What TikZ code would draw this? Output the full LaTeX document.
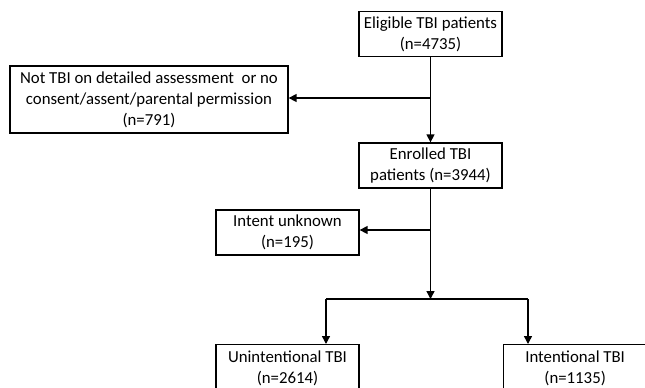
\documentclass[tikz,border=0pt]{standalone}
\usepackage{fontspec}
\setmainfont{Carlito}
\usetikzlibrary{arrows.meta}

\tikzset{
  box/.style={draw, line width=1.3pt, align=center, inner sep=0pt,
    minimum width=143, minimum height=45,
    font=\fontsize{16.8}{21}\selectfont},
  arr/.style={line width=1.4pt, -{Triangle[length=8pt,width=8pt]}},
  ln/.style={line width=1.4pt}
}

\begin{document}
\begin{tikzpicture}[x=1pt,y=-1pt]
\clip (0,0) rectangle (645,388);
\fill[white] (0,0) rectangle (645,388);

\node[box] (elig) at (430.5,34) {Eligible TBI patients\\(n=4735)};
\node[box,minimum width=278,minimum height=67] (excl) at (149,99.5)
  {Not TBI on detailed assessment\ \ or no\\consent/assent/parental permission\\(n=791)};
\node[box] (enrol) at (430.5,165.5) {Enrolled TBI\\patients (n=3944)};
\node[box] (unknown) at (287.5,232.5) {Intent unknown\\(n=195)};
\node[box,anchor=north,minimum height=47] (unint) at (287.5,344) {Unintentional TBI\\(n=2614)};
\node[box,anchor=north west,minimum height=47] (inten) at (503,344) {Intentional TBI\\(n=1135)};

\coordinate (b1) at (430.5,98);
\coordinate (b2) at (430.5,230);
\coordinate (split) at (430.5,299);
\coordinate (lft) at (326,299);
\coordinate (rgt) at (528,299);

\draw[arr] (elig) -- (enrol);
\draw[arr] (b1) -- (b1 -| excl.east);
\draw[arr] (enrol) -- (split);
\draw[arr] (b2) -- (b2 -| unknown.east);
\draw[ln] (lft) -- (rgt);
\draw[arr] (lft) -- (lft |- unint.north);
\draw[arr] (rgt) -- (rgt |- inten.north);
\end{tikzpicture}
\end{document}
